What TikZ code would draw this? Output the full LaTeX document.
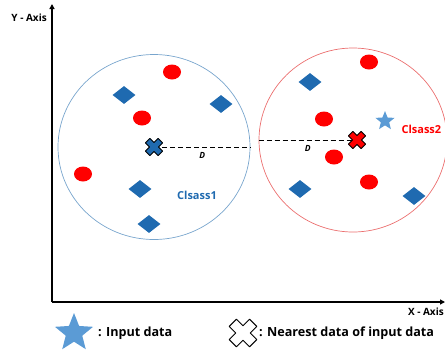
\documentclass[tikz,border=0pt]{standalone}
\usepackage{fontspec}
\setmainfont{Open Sans}
\usepackage{tikz}
\usetikzlibrary{shapes.geometric, arrows.meta, positioning}
\usepackage{xcolor}
\definecolor{gemblue}{RGB}{31,106,176}
\definecolor{starblue}{RGB}{91,155,213}
\definecolor{ringblue}{RGB}{120,165,205}
\definecolor{ringred}{RGB}{235,110,110}
\tikzstyle{reddot}    = [ellipse, fill=red, minimum width=18pt, minimum height=15pt, inner sep=0pt]
\tikzstyle{bluegem}   = [diamond, fill=gemblue, minimum width=23pt, minimum height=18pt, inner sep=0pt]
\tikzstyle{inputstar} = [star, star points=5, star point ratio=2.3, fill=starblue,
                          inner sep=0pt, minimum size=20pt]
\tikzstyle{cluster}   = [ellipse, draw, line width=0.7pt, inner sep=0pt]
\tikzstyle{axis}      = [line width=1.5pt, -{Triangle[length=5pt, width=5pt]}]
\tikzstyle{dline}     = [dashed, dash pattern=on 5pt off 3pt, line width=0.8pt]
\tikzstyle{label}     = [font=\bfseries\fontsize{10}{12}\selectfont, inner sep=1pt]
\tikzstyle{dist}      = [font=\bfseries\itshape\fontsize{8.5}{10}\selectfont]
\tikzstyle{clsname}   = [font=\bfseries\fontsize{11}{13}\selectfont]
\tikzstyle{legend}    = [font=\bfseries\fontsize{12.6}{15}\selectfont, anchor=west, inner sep=1pt]
\tikzset{
  pics/xmark/.style={code={
    \fill[#1, draw=black, line width=1pt, line join=round, rotate=45]
      (3.2,9) -- (3.2,3.2) -- (9,3.2) -- (9,-3.2) -- (3.2,-3.2) -- (3.2,-9)
      -- (-3.2,-9) -- (-3.2,-3.2) -- (-9,-3.2) -- (-9,3.2) -- (-3.2,3.2) -- (-3.2,9) -- cycle;
  }}
}

\begin{document}
\begin{tikzpicture}[x=1pt, y=-1pt]
  \useasboundingbox (0,0) rectangle (445,349);

  % Axes
  \coordinate (origin) at (52,302);
  \coordinate (ytip)   at (52,4);
  \coordinate (xtip)   at (445,302);
  \draw[axis] (origin) -- (ytip);
  \draw[axis] (origin) -- (xtip);
  \node (ylab) [label, anchor=east] at (48,18)  {Y - Axis};
  \node (xlab) [label, anchor=east] at (445,312) {X - Axis};

  % Clusters
  \node (c1) [cluster, draw=ringblue, minimum width=192pt, minimum height=185pt] at (154,147) {};
  \node (c2) [cluster, draw=ringred,  minimum width=188pt, minimum height=184pt] at (353,140) {};

  % Points of class 1
  \node (r1) [reddot] at (172,72)  {};
  \node (r2) [reddot] at (142,118) {};
  \node (r3) [reddot] at (83,174)  {};
  \node (b1) [bluegem] at (124,95)  {};
  \node (b2) [bluegem] at (221,104) {};
  \node (b3) [bluegem] at (140,189) {};
  \node (b4) [bluegem] at (149,224) {};

  % Points of class 2
  \node (r4) [reddot] at (369,62)  {};
  \node (r5) [reddot] at (324,119) {};
  \node (r6) [reddot] at (334,157) {};
  \node (r7) [reddot] at (369,182) {};
  \node (b5) [bluegem] at (310,82)  {};
  \node (b6) [bluegem] at (300,189) {};
  \node (b7) [bluegem] at (414,196) {};

  % Input data
  \node (input) [inputstar] at (385,121) {};

  % Nearest data and distances
  \coordinate (x1) at (154,147);
  \coordinate (x2) at (357,140);
  \draw[dline] (x1) -- node[below=2pt, dist]{D} (c1.east);
  \draw[dline] (c2.west) -- node[below=2pt, dist]{D} (x2);
  \pic at (x1) {xmark=gemblue};
  \pic at (x2) {xmark=red};

  % Class names
  \node (n1) [clsname, text=gemblue] at (197,195) {Clsass1};
  \node (n2) [clsname, text=red, anchor=west] at (398,129) {Clsass2};

  % Legend
  \node (lstar) [inputstar, minimum size=40pt] at (74,333) {};
  \node (ltext1) [legend] at (97,333) {: Input data};
  \coordinate (lx) at (243,333);
  \pic[scale=1.6] at (lx) {xmark=white};
  \node (ltext2) [legend] at (258,333) {: Nearest data of input data};

\end{tikzpicture}
\end{document}
